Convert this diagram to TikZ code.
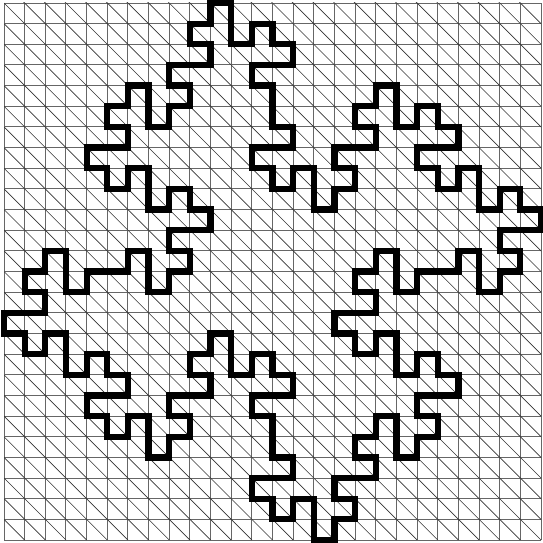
\documentclass[tikz,border=0pt]{standalone}
\usepackage{tikz}

\tikzstyle{gridline} = [black!60, line width=0.65pt]
\tikzstyle{diagline} = [black!80, line width=0.45pt]
\tikzstyle{island}   = [black, line width=4.3pt, line cap=rect, line join=miter]

\begin{document}
\begin{tikzpicture}[x=0.5cm, y=0.5cm]
\useasboundingbox (-0.194,-0.145) rectangle (26.048,26.145);

% square grid with one diagonal per cell
\draw[gridline, step=0.5cm] (0,0) grid (26,26);
\begin{scope}
\clip (0,0) rectangle (26,26);
\foreach \k in {1,...,51}
  \draw[diagline] (0,\k) -- (\k,0);
\end{scope}

% closed curve, four turned copies of one quarter
\foreach \a in {0,-90,-180,-270}
  \draw[island, rotate around={\a:(13,13)}]
    (11,26) -- (11,24) -- (12,24) -- (12,25) -- (13,25) -- (13,24) -- (14,24) -- (14,23)
    -- (12,23) -- (12,22) -- (13,22) -- (13,20) -- (14,20) -- (14,19) -- (12,19) -- (12,18)
    -- (13,18) -- (13,17) -- (14,17) -- (14,18) -- (15,18) -- (15,16) -- (16,16) -- (16,17)
    -- (17,17) -- (17,18) -- (16,18) -- (16,19) -- (18,19) -- (18,20) -- (17,20) -- (17,21)
    -- (18,21) -- (18,22) -- (19,22) -- (19,20) -- (20,20) -- (20,21) -- (21,21) -- (21,20)
    -- (22,20) -- (22,19) -- (20,19) -- (20,18) -- (21,18) -- (21,17) -- (22,17) -- (22,18)
    -- (23,18) -- (23,16) -- (24,16) -- (24,17) -- (25,17) -- (25,16) -- (26,16) -- (26,15);

\end{tikzpicture}
\end{document}
